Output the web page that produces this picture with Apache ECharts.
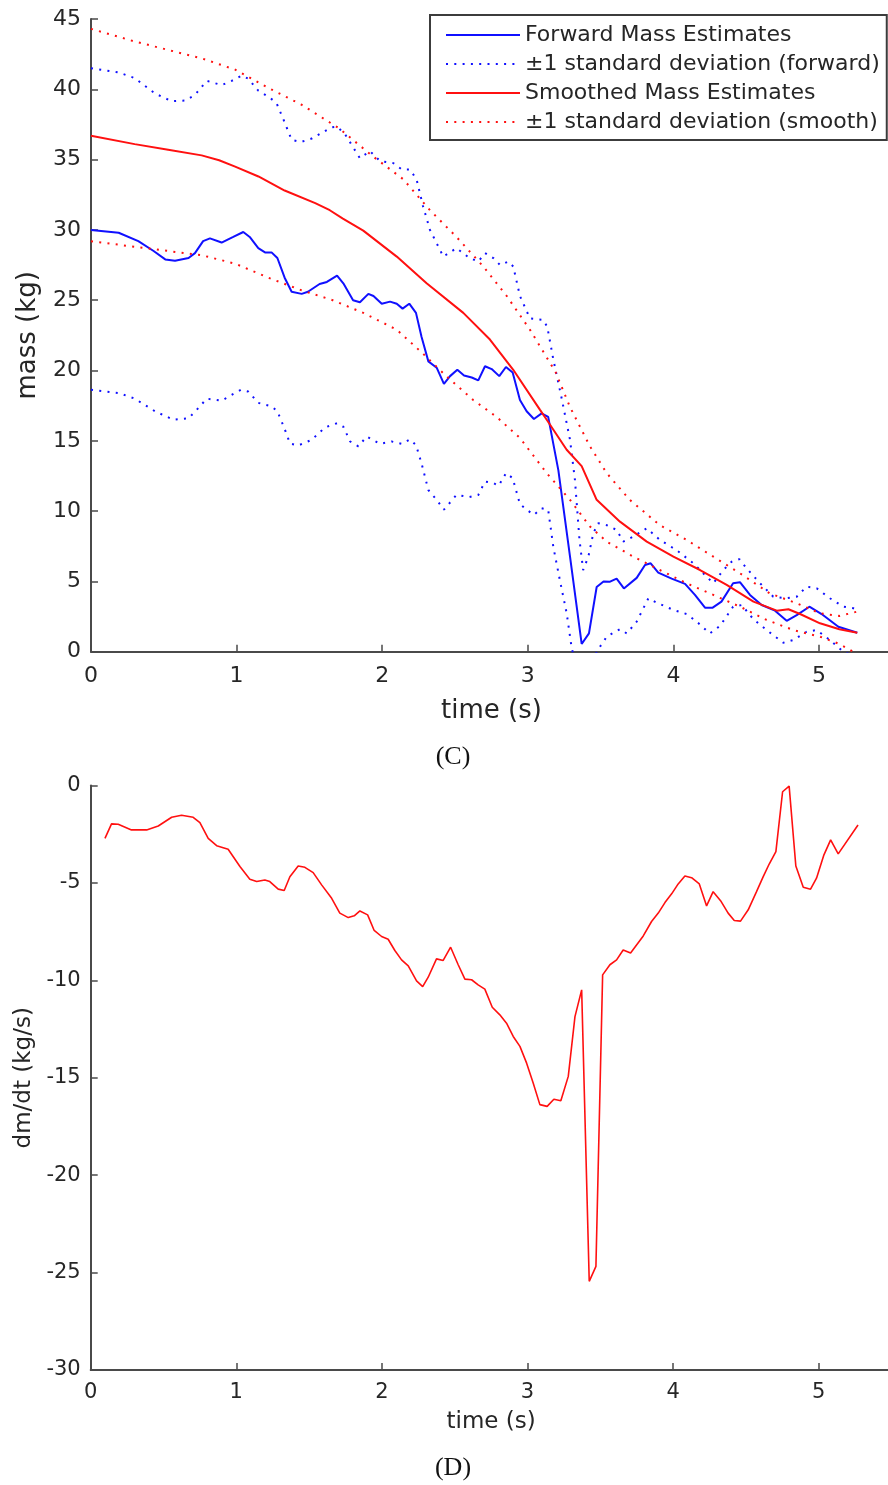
<!DOCTYPE html>
<html>
<head>
<meta charset="utf-8">
<script src="https://cdn.jsdelivr.net/npm/echarts@6/dist/echarts.min.js"></script>
<style>
  html, body { margin: 0; padding: 0; background: #fff; overflow: hidden; width: 888px; height: 1485px; }
  #chart { width: 900px; height: 1485px; }
</style>
</head>
<body>
<div id="chart"></div>
<script>
// ---- data: [time (s), value] ----
const forwardMass = [
  [0, 30.0], [0.19, 29.8], [0.325, 29.2], [0.43, 28.5], [0.51, 27.9], [0.577, 27.8], [0.67, 28.0],
  [0.714, 28.35], [0.77, 29.2], [0.817, 29.4], [0.897, 29.1], [0.977, 29.5], [1.046, 29.85], [1.09, 29.5],
  [1.149, 28.7], [1.195, 28.4], [1.24, 28.4], [1.28, 28.0], [1.33, 26.6], [1.378, 25.6], [1.447, 25.45],
  [1.49, 25.6], [1.57, 26.15], [1.62, 26.3], [1.69, 26.75], [1.733, 26.2], [1.80, 25.0], [1.847, 24.85],
  [1.905, 25.45], [1.94, 25.3], [1.997, 24.75], [2.054, 24.9], [2.10, 24.75], [2.14, 24.4], [2.186, 24.75],
  [2.232, 24.1], [2.27, 22.4], [2.317, 20.65], [2.374, 20.2], [2.424, 19.05], [2.466, 19.6], [2.516, 20.05],
  [2.562, 19.65], [2.615, 19.5], [2.66, 19.3], [2.706, 20.3], [2.752, 20.1], [2.804, 19.6], [2.85, 20.25],
  [2.896, 19.85], [2.946, 17.9], [2.992, 17.1], [3.042, 16.55], [3.095, 16.95], [3.14, 16.7], [3.21, 12.9],
  [3.29, 6.76], [3.37, 0.55], [3.42, 1.3], [3.473, 4.6], [3.52, 5.0], [3.565, 4.98], [3.61, 5.2],
  [3.66, 4.5], [3.748, 5.25], [3.805, 6.17], [3.844, 6.29], [3.896, 5.63], [3.988, 5.2], [4.08, 4.82],
  [4.148, 4.04], [4.217, 3.13], [4.27, 3.13], [4.33, 3.56], [4.41, 4.87], [4.457, 4.94], [4.526, 4.04],
  [4.606, 3.32], [4.698, 2.92], [4.778, 2.2], [4.847, 2.6], [4.934, 3.2], [5.018, 2.68], [5.133, 1.78],
  [5.263, 1.35]
];
const forwardUpper = [
  [0, 41.5], [0.19, 41.2], [0.30, 40.8], [0.44, 39.7], [0.554, 39.15], [0.646, 39.2], [0.714, 39.6],
  [0.795, 40.6], [0.897, 40.3], [0.966, 40.6], [1.035, 40.97], [1.08, 40.76], [1.149, 39.9], [1.229, 39.4],
  [1.275, 39.0], [1.328, 37.7], [1.378, 36.4], [1.442, 36.25], [1.516, 36.5], [1.585, 36.9], [1.653, 37.3],
  [1.69, 37.35], [1.745, 36.8], [1.847, 35.1], [1.916, 35.6], [1.985, 34.9], [2.076, 34.75], [2.134, 34.3],
  [2.19, 34.3], [2.236, 33.6], [2.28, 31.7], [2.328, 30.0], [2.42, 28.1], [2.51, 28.7], [2.60, 28.0],
  [2.66, 27.75], [2.706, 28.35], [2.763, 28.0], [2.81, 27.5], [2.866, 27.75], [2.90, 27.4], [2.946, 25.3],
  [3.015, 23.7], [3.107, 23.6], [3.134, 23.1], [3.175, 20.8], [3.23, 18.15], [3.29, 15.07], [3.324, 12.2],
  [3.355, 7.95], [3.38, 5.81], [3.416, 6.76], [3.45, 8.43], [3.484, 9.14], [3.542, 9.0], [3.61, 8.66],
  [3.656, 7.83], [3.725, 8.19], [3.817, 8.78], [3.907, 7.95], [4.02, 7.24], [4.137, 6.29], [4.228, 5.34],
  [4.274, 4.87], [4.343, 5.81], [4.40, 6.4], [4.453, 6.58], [4.503, 5.93], [4.595, 4.87], [4.686, 3.91],
  [4.778, 3.8], [4.847, 3.91], [4.915, 4.63], [4.984, 4.51], [5.075, 3.8], [5.167, 3.2], [5.236, 3.09],
  [5.263, 3.0]
];
const forwardLower = [
  [0, 18.63], [0.19, 18.4], [0.30, 18.0], [0.44, 17.1], [0.566, 16.5], [0.67, 16.6], [0.726, 17.2],
  [0.795, 18.0], [0.897, 17.85], [0.966, 18.27], [1.03, 18.63], [1.08, 18.5], [1.149, 17.7], [1.24, 17.45],
  [1.28, 17.1], [1.328, 15.9], [1.367, 14.8], [1.424, 14.67], [1.516, 15.07], [1.607, 15.95], [1.69, 16.25],
  [1.733, 16.0], [1.78, 14.95], [1.836, 14.6], [1.893, 15.3], [1.985, 14.78], [2.065, 14.95], [2.134, 14.78],
  [2.19, 15.1], [2.232, 14.7], [2.27, 13.4], [2.317, 11.5], [2.374, 10.8], [2.424, 10.1], [2.51, 11.15],
  [2.60, 11.0], [2.66, 11.15], [2.706, 12.1], [2.763, 12.0], [2.80, 11.8], [2.85, 12.7], [2.896, 12.35],
  [2.946, 10.5], [2.992, 10.1], [3.042, 9.73], [3.095, 10.2], [3.14, 10.1], [3.175, 7.47], [3.22, 5.1],
  [3.267, 2.73], [3.30, 0.36], [3.35, -2.0], [3.40, -2.5], [3.44, -1.2], [3.473, 0.0], [3.542, 1.07],
  [3.633, 1.6], [3.68, 1.3], [3.748, 2.14], [3.828, 3.8], [3.885, 3.49], [4.0, 2.97], [4.09, 2.68],
  [4.16, 2.14], [4.25, 1.3], [4.32, 1.83], [4.41, 3.2], [4.47, 3.32], [4.55, 2.3], [4.64, 1.54],
  [4.755, 0.64], [4.824, 0.83], [4.915, 1.42], [4.984, 1.54], [5.075, 0.83], [5.167, 0.0], [5.263, -0.4]
];
const smoothMass = [
  [0, 36.7], [0.3, 36.1], [0.53, 35.7], [0.76, 35.3], [0.88, 34.95], [0.99, 34.5], [1.15, 33.8],
  [1.33, 32.8], [1.54, 31.9], [1.64, 31.4], [1.73, 30.8], [1.87, 29.95], [2.10, 28.1], [2.305, 26.2],
  [2.557, 24.1], [2.74, 22.2], [2.90, 20.05], [3.084, 17.2], [3.13, 16.5], [3.267, 14.36], [3.37, 13.2],
  [3.473, 10.8], [3.633, 9.25], [3.817, 7.83], [4.0, 6.76], [4.183, 5.81], [4.366, 4.75], [4.55, 3.56],
  [4.71, 2.92], [4.79, 3.02], [4.87, 2.68], [5.007, 2.02], [5.14, 1.6], [5.263, 1.35]
];
const smoothUpper = [
  [0, 44.3], [0.3, 43.4], [0.53, 42.8], [0.76, 42.2], [0.99, 41.4], [1.218, 40.1], [1.447, 38.9],
  [1.70, 37.25], [1.94, 35.2], [2.145, 33.6], [2.328, 31.4], [2.51, 29.5], [2.694, 27.4], [2.855, 25.3],
  [3.015, 22.9], [3.19, 19.9], [3.29, 17.4], [3.427, 14.6], [3.542, 12.7], [3.70, 10.8], [3.907, 9.0],
  [4.09, 7.95], [4.274, 6.76], [4.457, 5.58], [4.66, 4.16], [4.847, 3.44], [5.007, 2.73], [5.14, 2.54],
  [5.263, 2.85]
];
const smoothLower = [
  [0, 29.2], [0.3, 28.8], [0.53, 28.5], [0.76, 28.2], [0.99, 27.6], [1.218, 26.6], [1.447, 25.7],
  [1.66, 25.0], [1.87, 24.1], [2.10, 22.9], [2.28, 21.2], [2.44, 19.6], [2.625, 17.9], [2.786, 16.7],
  [2.946, 15.2], [3.13, 12.7], [3.29, 10.8], [3.427, 8.9], [3.542, 7.83], [3.725, 6.76], [3.907, 5.81],
  [4.09, 4.87], [4.274, 4.04], [4.457, 3.2], [4.64, 2.26], [4.824, 1.54], [5.007, 1.07], [5.14, 0.55],
  [5.236, 0.0], [5.263, -0.15]
];
const massRate = [
  [0.098, -2.71], [0.143, -1.97], [0.189, -1.99], [0.28, -2.28], [0.384, -2.28], [0.464, -2.08],
  [0.556, -1.63], [0.624, -1.53], [0.704, -1.63], [0.75, -1.91], [0.807, -2.71], [0.865, -3.09],
  [0.944, -3.27], [1.025, -4.16], [1.093, -4.81], [1.14, -4.93], [1.196, -4.85], [1.23, -4.93],
  [1.288, -5.32], [1.329, -5.39], [1.368, -4.68], [1.425, -4.13], [1.471, -4.2], [1.528, -4.47],
  [1.586, -5.1], [1.655, -5.79], [1.711, -6.55], [1.769, -6.78], [1.81, -6.69], [1.849, -6.44],
  [1.902, -6.64], [1.947, -7.44], [1.998, -7.75], [2.043, -7.89], [2.089, -8.47], [2.135, -8.95],
  [2.181, -9.26], [2.238, -10.03], [2.28, -10.32], [2.318, -9.84], [2.375, -8.9], [2.421, -8.98],
  [2.472, -8.3], [2.524, -9.2], [2.57, -9.94], [2.616, -9.97], [2.661, -10.23], [2.707, -10.45],
  [2.758, -11.38], [2.81, -11.77], [2.856, -12.2], [2.902, -12.88], [2.948, -13.39], [2.994, -14.25],
  [3.039, -15.27], [3.085, -16.38], [3.135, -16.47], [3.181, -16.1], [3.229, -16.18], [3.28, -14.93],
  [3.326, -11.86], [3.372, -10.49], [3.424, -25.45], [3.47, -24.68], [3.516, -9.72], [3.566, -9.2],
  [3.612, -8.95], [3.657, -8.44], [3.708, -8.6], [3.795, -7.72], [3.852, -6.98], [3.898, -6.55],
  [3.944, -6.01], [3.99, -5.56], [4.035, -5.05], [4.081, -4.64], [4.127, -4.73], [4.18, -5.05],
  [4.23, -6.18], [4.275, -5.45], [4.326, -5.91], [4.378, -6.55], [4.42, -6.93], [4.463, -6.96],
  [4.516, -6.38], [4.573, -5.45], [4.619, -4.68], [4.66, -4.03], [4.706, -3.39], [4.752, -0.32],
  [4.797, -0.03], [4.843, -4.13], [4.894, -5.22], [4.944, -5.32], [4.985, -4.76], [5.036, -3.56],
  [5.082, -2.79], [5.134, -3.51], [5.27, -2.03]
];

const seriesNames = [
  'Forward Mass Estimates',
  '\u00b11 standard deviation (forward)',
  'Smoothed Mass Estimates',
  '\u00b11 standard deviation (smooth)'
];
const captions = ['(C)', '(D)'];

// ---- styling ----
const SANS = '"DejaVu Sans", sans-serif';
const SERIF = '"Liberation Serif", "DejaVu Serif", serif';
const AXIS_COLOR = '#4a4a4a';
const TEXT_COLOR = '#262626';
const BLUE = '#1010ff';
const RED = '#ff1010';
const DOTS = [2, 6.3];

function timeAxis(gridIndex, labelSize, labelMargin, nameSize, nameGap) {
  return {
    type: 'value', gridIndex, min: 0, max: 5.5, interval: 1,
    axisLine: { onZero: false, lineStyle: { color: AXIS_COLOR, width: 2 } },
    axisTick: { inside: true, length: 7, lineStyle: { color: AXIS_COLOR, width: 1.5 } },
    axisLabel: { showMaxLabel: false, color: TEXT_COLOR, fontFamily: SANS, fontSize: labelSize, margin: labelMargin },
    splitLine: { show: false },
    name: 'time (s)', nameLocation: 'middle', nameGap,
    nameTextStyle: { color: TEXT_COLOR, fontFamily: SANS, fontSize: nameSize }
  };
}
function valueAxis(gridIndex, min, max, name, labelSize, nameSize, nameGap) {
  return {
    type: 'value', gridIndex, min, max, interval: 5,
    axisLine: { show: true, onZero: false, lineStyle: { color: AXIS_COLOR, width: 2 } },
    axisTick: { show: true, inside: true, length: 7, lineStyle: { color: AXIS_COLOR, width: 1.5 } },
    axisLabel: { color: TEXT_COLOR, fontFamily: SANS, fontSize: labelSize, margin: 10 },
    splitLine: { show: false },
    name, nameLocation: 'middle', nameGap, nameRotate: 90,
    nameTextStyle: { color: TEXT_COLOR, fontFamily: SANS, fontSize: nameSize }
  };
}
function lineSeries(name, data, color, dotted, width, axisIndex) {
  return {
    type: 'line', name, data,
    xAxisIndex: axisIndex, yAxisIndex: axisIndex,
    symbol: 'none', showSymbol: false, clip: true, animation: false,
    lineStyle: { color, width, type: dotted ? DOTS : 'solid' },
    itemStyle: { color },
    emphasis: { disabled: true }
  };
}

const chart = echarts.init(document.getElementById('chart'), null, { renderer: 'canvas' });
chart.setOption({
  backgroundColor: '#ffffff',
  animation: false,
  grid: [
    { left: 91, top: 19, width: 800.8, height: 632.7 },
    { left: 90.7, top: 785.5, width: 800.8, height: 584.5 }
  ],
  xAxis: [
    timeAxis(0, 22, 14, 26, 47),
    timeAxis(1, 21, 12, 23, 41)
  ],
  yAxis: [
    valueAxis(0, 0, 45, 'mass (kg)', 22, 26, 50),
    valueAxis(1, -30, 0, 'dm/dt (kg/s)', 21, 23, 52)
  ],
  legend: {
    data: seriesNames,
    orient: 'vertical', left: 430, top: 15,
    padding: [8, 7, 6, 15],
    itemWidth: 74, itemHeight: 14, itemGap: 5,
    borderColor: '#3c3c3c', borderWidth: 2, backgroundColor: '#ffffff',
    selectedMode: false,
    itemStyle: { opacity: 0 },
    textStyle: { color: TEXT_COLOR, fontFamily: SANS, fontSize: 22, lineHeight: 24 }
  },
  series: [
    lineSeries(seriesNames[0], forwardMass, BLUE, false, 2, 0),
    lineSeries(seriesNames[1], forwardUpper, BLUE, true, 2, 0),
    lineSeries(seriesNames[1], forwardLower, BLUE, true, 2, 0),
    lineSeries(seriesNames[2], smoothMass, RED, false, 2, 0),
    lineSeries(seriesNames[3], smoothUpper, RED, true, 2, 0),
    lineSeries(seriesNames[3], smoothLower, RED, true, 2, 0),
    lineSeries('dm/dt', massRate, RED, false, 1.6, 1)
  ],
  graphic: [
    { type: 'text', x: 453, y: 757, style: { text: captions[0], font: '26px ' + SERIF, fill: '#111',
      align: 'center', verticalAlign: 'middle', textAlign: 'center', textVerticalAlign: 'middle' } },
    { type: 'text', x: 453, y: 1468, style: { text: captions[1], font: '26px ' + SERIF, fill: '#111',
      align: 'center', verticalAlign: 'middle', textAlign: 'center', textVerticalAlign: 'middle' } }
  ]
});
</script>
</body>
</html>
